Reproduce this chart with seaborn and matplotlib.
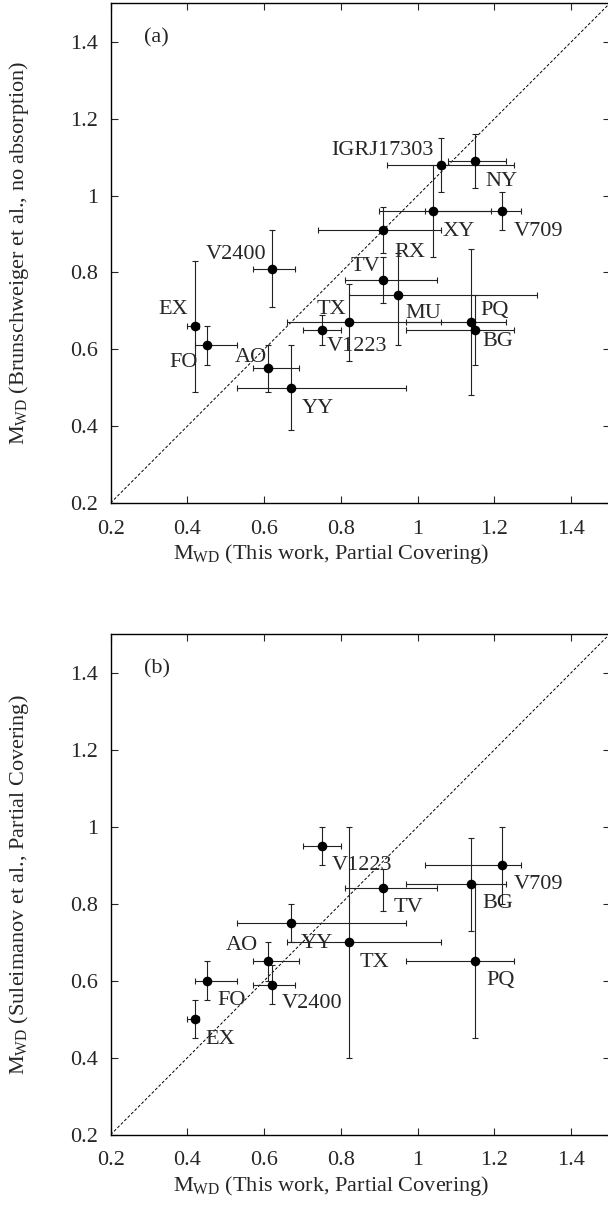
import numpy as np
import pandas as pd
import seaborn as sns
from matplotlib import pyplot as plt

# panel (a): this work vs Brunschweiger et al.
names_a = ["IGRJ17303", "NY", "XY", "V709", "RX", "V2400", "TV", "MU",
           "EX", "TX", "PQ", "V1223", "BG", "FO", "AO", "YY"]
x_a = [1.06, 1.15, 1.04, 1.22, 0.91, 0.62, 0.91, 0.95, 0.42, 0.82, 1.14, 0.75, 1.15, 0.45, 0.61, 0.67]
y_a = [1.08, 1.09, 0.96, 0.96, 0.91, 0.81, 0.78, 0.74, 0.66, 0.67, 0.67, 0.65, 0.65, 0.61, 0.55, 0.50]
x_lo_a = [0.92, 1.08, 0.90, 1.02, 0.74, 0.57, 0.81, 0.82, 0.40, 0.66, 0.97, 0.70, 0.97, 0.42, 0.57, 0.53]
x_hi_a = [1.25, 1.23, 1.19, 1.27, 1.06, 0.68, 1.05, 1.31, 0.43, 1.06, 1.23, 0.80, 1.25, 0.53, 0.69, 0.97]
y_lo_a = [1.01, 1.02, 0.84, 0.91, 0.85, 0.71, 0.72, 0.61, 0.49, 0.57, 0.48, 0.61, 0.56, 0.56, 0.49, 0.39]
y_hi_a = [1.15, 1.16, 1.08, 1.01, 0.97, 0.91, 0.84, 0.85, 0.83, 0.77, 0.86, 0.69, 0.74, 0.66, 0.61, 0.61]

# panel (b): this work vs Suleimanov et al.
names_b = ["V1223", "V709", "BG", "TV", "YY", "TX", "AO", "PQ", "FO", "V2400", "EX"]
x_b = [0.75, 1.22, 1.14, 0.91, 0.67, 0.82, 0.61, 1.15, 0.45, 0.62, 0.42]
y_b = [0.95, 0.90, 0.85, 0.84, 0.75, 0.70, 0.65, 0.65, 0.60, 0.59, 0.50]
x_lo_b = [0.70, 1.02, 0.97, 0.81, 0.53, 0.66, 0.57, 0.97, 0.42, 0.57, 0.40]
x_hi_b = [0.80, 1.27, 1.23, 1.05, 0.97, 1.06, 0.69, 1.25, 0.53, 0.68, 0.43]
y_lo_b = [0.90, 0.80, 0.73, 0.78, 0.70, 0.40, 0.60, 0.45, 0.55, 0.54, 0.45]
y_hi_b = [1.00, 1.00, 0.97, 0.89, 0.80, 1.00, 0.70, 0.85, 0.65, 0.64, 0.55]

ticks = [0.2, 0.4, 0.6, 0.8, 1.0, 1.2, 1.4]

# label offsets in points (layout only)
off_a = {"IGRJ17303": (-42, 10), "NY": (19, -15), "XY": (18.5, -15), "V709": (26, -15),
         "RX": (19, -16), "V2400": (-26, 10), "TV": (-13, 9.5), "MU": (18, -13),
         "EX": (-15.5, 12), "TX": (-12.5, 9), "PQ": (16.5, 8.6), "V1223": (25.4, -12),
         "BG": (16, -8.3), "FO": (-16.6, -12.5), "AO": (-12, 7.8), "YY": (19, -15)}
off_b = {"V1223": (29, -14.4), "V709": (26, -14), "BG": (18.8, -13.9), "TV": (18.2, -13.9),
         "YY": (18.5, -14.7), "TX": (18.5, -14.4), "AO": (-18.5, 11.4), "PQ": (18.2, -13.9),
         "FO": (17.7, -13.9), "V2400": (29.3, -13.6), "EX": (18.5, -14.4)}

sns.set_style("ticks")
plt.rcParams['font.family'] = ['Liberation Serif', 'DejaVu Serif']
plt.rcParams['mathtext.fontset'] = 'custom'
plt.rcParams['mathtext.rm'] = 'Liberation Serif'
plt.rcParams['mathtext.it'] = 'Liberation Serif:italic'
plt.rcParams['font.size'] = 16


def draw_panel(ax, names, x, y, xlo, xhi, ylo, yhi, offs, tag, ylabel):
    df = pd.DataFrame({"name": names, "x": x, "y": y,
                       "xlo": xlo, "xhi": xhi, "ylo": ylo, "yhi": yhi})

    # 1:1 line
    ax.plot([0.2, 1.5], [0.2, 1.5], ls=(0, (3, 2)), color='black', lw=0.7, zorder=1)

    xerr = np.array([df["x"] - df["xlo"], df["xhi"] - df["x"]])
    yerr = np.array([df["y"] - df["ylo"], df["yhi"] - df["y"]])
    ax.errorbar(df["x"], df["y"], xerr=xerr, yerr=yerr, fmt='none',
                ecolor='#222222', elinewidth=0.8, capsize=2.5, capthick=0.8, zorder=2)

    sns.scatterplot(data=df, x="x", y="y", ax=ax, color='black', s=48,
                    edgecolor='black', linewidth=0, zorder=3, legend=False)

    for n, px, py in zip(df["name"], df["x"], df["y"]):
        ax.annotate(n, (px, py), xytext=offs[n], textcoords='offset points',
                    ha='center', va='center', fontsize=16)

    ax.text(0.32, 1.41, tag, ha='center', va='center', fontsize=16)

    ax.set_xlim(0.2, 1.5)
    ax.set_ylim(0.2, 1.5)
    ax.set_xticks(ticks)
    ax.set_yticks(ticks)
    ax.set_xticklabels(['%g' % t for t in ticks])
    ax.set_yticklabels(['%g' % t for t in ticks])
    ax.tick_params(direction='in', top=True, right=True, length=5, width=0.8,
                   labelsize=16)
    ax.tick_params(axis='x', pad=12)
    ax.tick_params(axis='y', pad=9)
    for sp in ax.spines.values():
        sp.set_linewidth(1.0)
        sp.set_color('black')

    ax.set_xlabel(r'$\mathrm{M_{WD}}$ (This work, Partial Covering)', fontsize=16)
    ax.set_ylabel(ylabel, fontsize=16)
    ax.xaxis.set_label_coords(0.442, -0.078)
    ax.yaxis.set_label_coords(-0.16, 0.5)


fig = plt.figure(figsize=(6.08, 12.05), dpi=100)
ax_a = fig.add_axes([0.1819, 0.5826, 0.8207, 0.4145])
ax_b = fig.add_axes([0.1819, 0.0583, 0.8207, 0.4154])

draw_panel(ax_a, names_a, x_a, y_a, x_lo_a, x_hi_a, y_lo_a, y_hi_a, off_a, '(a)',
           r'$\mathrm{M_{WD}}$ (Brunschweiger et al., no absorption)')
draw_panel(ax_b, names_b, x_b, y_b, x_lo_b, x_hi_b, y_lo_b, y_hi_b, off_b, '(b)',
           r'$\mathrm{M_{WD}}$ (Suleimanov et al., Partial Covering)')

plt.savefig('out.png', dpi=100)
plt.close()
